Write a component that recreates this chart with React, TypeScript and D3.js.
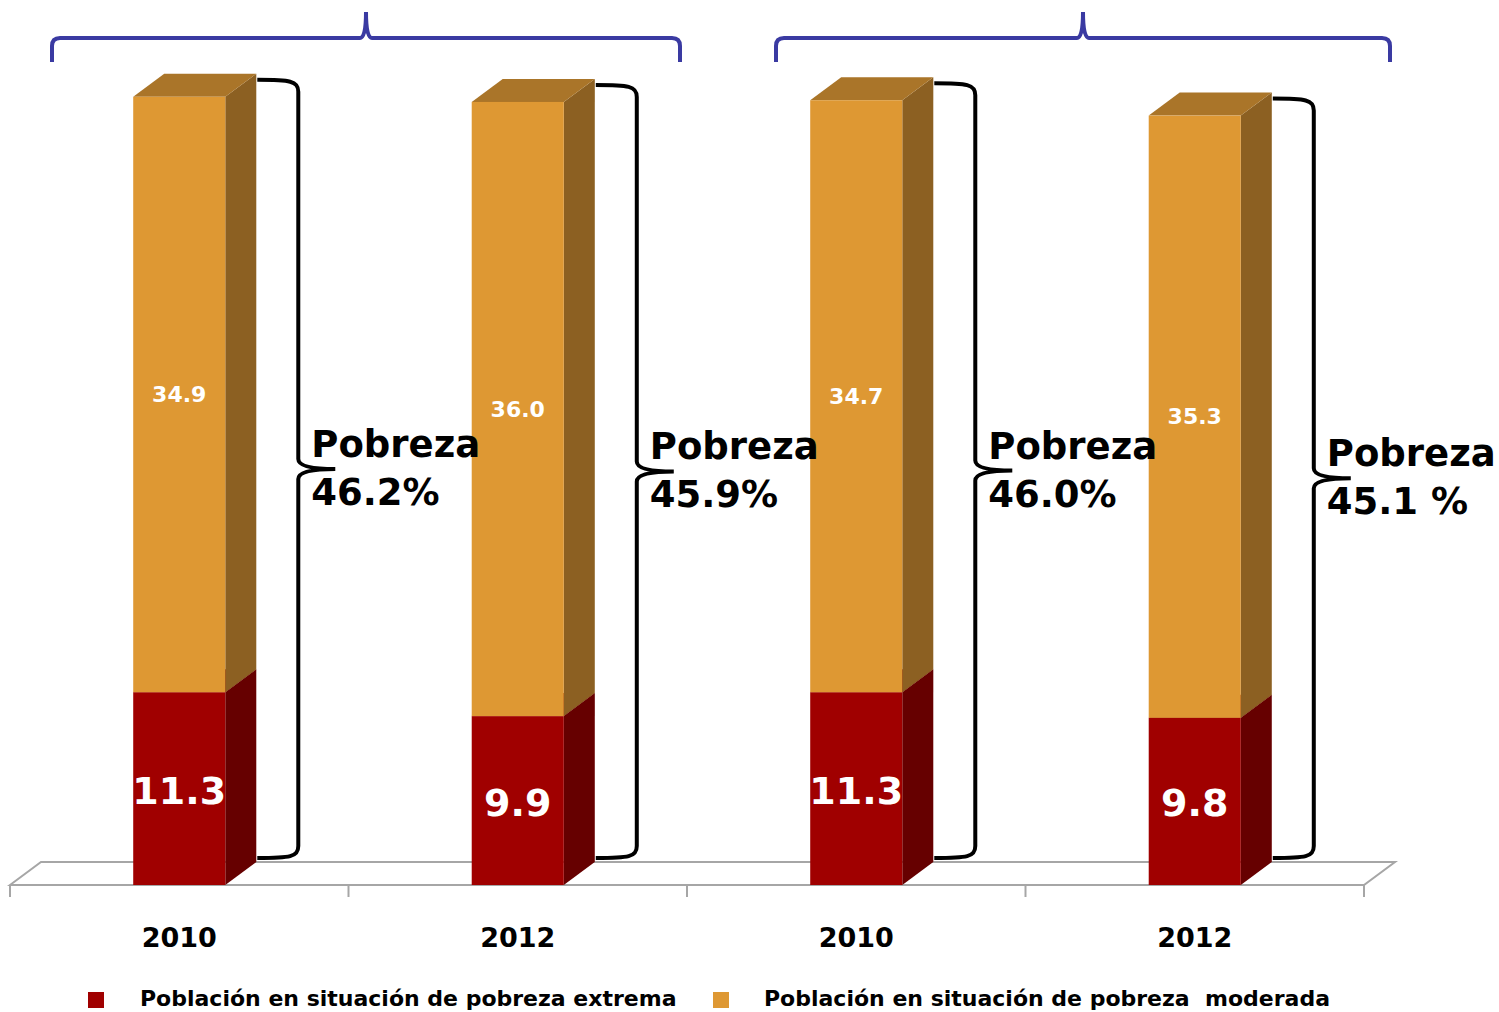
import React from "react";
import * as d3 from "d3";

const categories = ["2010", "2012", "2010", "2012"];
const extrema = [11.3, 9.9, 11.3, 9.8];
const moderada = [34.9, 36.0, 34.7, 35.3];
const pobrezaLabels = ["46.2%", "45.9%", "46.0%", "45.1 %"];
const legendLabels = [
  "Población en situación de pobreza extrema",
  "Población en situación de pobreza\u00A0 moderada",
];

const W = 1499;
const H = 1012;
const DX = 31;
const DY = -23;
const FONT = "'DejaVu Sans', Verdana, sans-serif";

const colors = {
  redFront: "#A00000",
  redSide: "#660000",
  redTop: "#7A0000",
  orFront: "#DE9833",
  orSide: "#8C6022",
  orTop: "#AA7529",
};

function box(x0: number, x1: number, yTop: number, yBot: number, front: string, side: string, top: string, key: string) {
  const sidePts = [
    [x1, yBot],
    [x1 + DX, yBot + DY],
    [x1 + DX, yTop + DY],
    [x1, yTop],
  ];
  const topPts = [
    [x0, yTop],
    [x0 + DX, yTop + DY],
    [x1 + DX, yTop + DY],
    [x1, yTop],
  ];
  const p = (pts: number[][]) => "M" + pts.map((q) => q.join(",")).join("L") + "Z";
  return (
    <g key={key}>
      <path d={p(sidePts)} fill={side} />
      <path d={p(topPts)} fill={top} />
      <rect x={x0} y={yTop} width={x1 - x0} height={yBot - yTop} fill={front} />
    </g>
  );
}

function rightBrace(x0: number, x1: number, yTop: number, yBot: number, tipX: number) {
  const yMid = (yTop + yBot) / 2;
  return [
    `M${x0},${yTop}`,
    `C${x1 - 8},${yTop} ${x1},${yTop + 1} ${x1},${yTop + 12}`,
    `L${x1},${yMid - 10}`,
    `Q${x1},${yMid} ${tipX},${yMid}`,
    `Q${x1},${yMid} ${x1},${yMid + 10}`,
    `L${x1},${yBot - 12}`,
    `C${x1},${yBot - 1} ${x1 - 8},${yBot} ${x0},${yBot}`,
  ].join(" ");
}

function topBrace(xa: number, xb: number, xm: number, yLine: number, yEnd: number, yTip: number) {
  return [
    `M${xa},${yEnd}`,
    `L${xa},${yLine + 8}`,
    `Q${xa},${yLine} ${xa + 8},${yLine}`,
    `L${xm - 6},${yLine}`,
    `Q${xm},${yLine} ${xm},${yTip}`,
    `Q${xm},${yLine} ${xm + 6},${yLine}`,
    `L${xb - 8},${yLine}`,
    `Q${xb},${yLine} ${xb},${yLine + 8}`,
    `L${xb},${yEnd}`,
  ].join(" ");
}

export default function App() {
  const keys = categories.map((c, i) => `${c}-${i}`);
  const x = d3.scaleBand<string>().domain(keys).range([10, 1364]).paddingInner(0.728).paddingOuter(0.364);
  const y = d3.scaleLinear().domain([0, 50]).range([885, 32]);
  const bw = x.bandwidth();
  const step = x.step();
  const floorLeft = 10;
  const floorRight = 1364;
  const tickXs = d3.range(categories.length + 1).map((i) => floorLeft + i * step);

  const groups = [
    { xa: 52, xb: 680, xm: 366 },
    { xa: 776, xb: 1390, xm: 1083 },
  ];

  return (
    <svg width={W} height={H} style={{ position: "absolute", left: 0, top: 0 }} fontFamily={FONT}>
      <rect width={W} height={H} fill="#fff" />
      {/* floor */}
      <path
        d={`M${floorLeft},${y(0)}L${floorLeft + DX},${y(0) + DY}L${floorRight + DX},${y(0) + DY}L${floorRight},${y(0)}Z`}
        fill="#fff"
        stroke="#A6A6A6"
        strokeWidth={2}
      />
      {tickXs.map((tx, i) => (
        <line key={i} x1={tx} x2={tx} y1={y(0)} y2={y(0) + 12} stroke="#A6A6A6" strokeWidth={2} />
      ))}
      {/* bars */}
      {keys.map((k, i) => {
        const x0 = x(k)!;
        const x1 = x0 + bw;
        const total = extrema[i] + moderada[i];
        return (
          <g key={k}>
            {box(x0, x1, y(extrema[i]), y(0), colors.redFront, colors.redSide, colors.redTop, "r")}
            {box(x0, x1, y(total), y(extrema[i]), colors.orFront, colors.orSide, colors.orTop, "o")}
            <text
              x={x0 + bw / 2}
              y={(y(total) + y(extrema[i])) / 2}
              textAnchor="middle"
              dominantBaseline="central"
              fill="#fff"
              fontWeight="bold"
              fontSize={22}
            >
              {moderada[i].toFixed(1)}
            </text>
            <text
              x={x0 + bw / 2}
              y={(y(extrema[i]) + y(0)) / 2 + 2}
              textAnchor="middle"
              dominantBaseline="central"
              fill="#fff"
              fontWeight="bold"
              fontSize={38}
            >
              {extrema[i].toFixed(1)}
            </text>
          </g>
        );
      })}
      {/* right braces and labels */}
      {keys.map((k, i) => {
        const x1 = x(k)! + bw;
        const total = extrema[i] + moderada[i];
        const bx0 = x1 + DX + 1;
        const yTop = y(total) - 17;
        const yBot = 858;
        const yMid = (yTop + yBot) / 2;
        return (
          <g key={"b" + k}>
            <path d={rightBrace(bx0, bx0 + 41, yTop, yBot, bx0 + 78)} fill="none" stroke="#000" strokeWidth={4} />
            <text x={x1 + 86} y={yMid - 12} fontWeight="bold" fontSize={37} fill="#000">
              Pobreza
            </text>
            <text x={x1 + 86} y={yMid + 36} fontWeight="bold" fontSize={37} fill="#000">
              {pobrezaLabels[i]}
            </text>
          </g>
        );
      })}
      {/* category labels */}
      {keys.map((k, i) => (
        <text key={"c" + k} x={x(k)! + bw / 2} y={947} textAnchor="middle" fontWeight="bold" fontSize={27} fill="#000">
          {categories[i]}
        </text>
      ))}
      {/* top group braces */}
      {groups.map((g, i) => (
        <path key={"g" + i} d={topBrace(g.xa, g.xb, g.xm, 38, 62, 12)} fill="none" stroke="#3A3AA2" strokeWidth={4} />
      ))}
      {/* legend */}
      <rect x={88} y={992} width={16} height={16} fill={colors.redFront} />
      <text x={140} y={1006} fontWeight="bold" fontSize={22} fill="#000">
        {legendLabels[0]}
      </text>
      <rect x={713} y={992} width={16} height={16} fill={colors.orFront} />
      <text x={764} y={1006} fontWeight="bold" fontSize={22} fill="#000">
        {legendLabels[1]}
      </text>
    </svg>
  );
}
